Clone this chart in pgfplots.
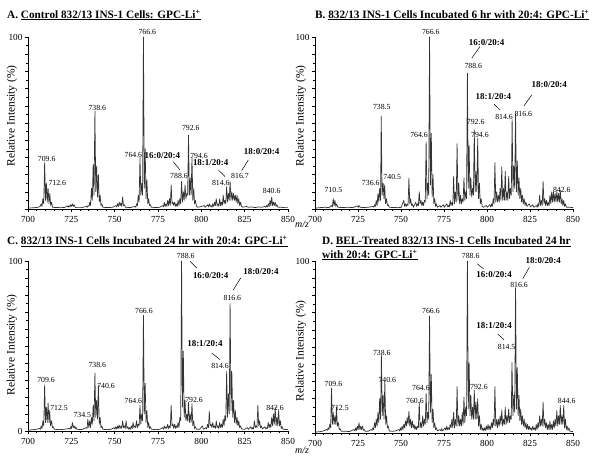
\documentclass[border=0pt]{standalone}
\usepackage{pgfplots}
\pgfplotsset{compat=1.18}
\usepackage{fontspec}
\setmainfont{Liberation Serif}
\newcommand{\pl}[3]{\node[font=\fontsize{7.8}{8}\selectfont, inner sep=0pt] at (axis cs:#1,#2) {#3};}
\newcommand{\lipid}[3]{\node[font=\fontsize{9}{10}\selectfont\bfseries, inner sep=0pt] at (axis cs:#1,#2) {#3};}
\newcommand{\ld}[4]{\draw[black, line width=0.5pt] (axis cs:#1,#2) -- (axis cs:#3,#4);}
\pgfplotsset{
  msstyle/.style={
    scale only axis, axis lines*=left, clip=false,
    xmin=700, xmax=850, ymin=0, ymax=100,
    xtick={700,725,...,850}, minor x tick num=4,
    ytick={0,10,...,100}, minor y tick num=1,
    tick align=outside, major tick length=3bp, minor tick length=1.6bp,
    tick style={black, line width=0.5pt},
    axis line style={black, line width=0.6pt},
    tick label style={font=\fontsize{9.3}{10}\selectfont},
    /pgf/number format/assume math mode=true,
    /pgf/number format/1000 sep={},
    xticklabel style={yshift=-1pt},
    yticklabel style={xshift=1pt},
    anchor=south west,
  },
  spec/.style={black!80, line width=0.7pt, sharp plot, mark=none, line join=round}
}
\begin{document}
\begin{tikzpicture}[x=1bp,y=1bp]
\useasboundingbox (0,0) rectangle (600,457);
% Titles
\node[anchor=west, font=\fontsize{11.3}{13}\selectfont\bfseries, inner sep=0pt] at (7,442) {A.\ \underline{Control 832/13 INS-1 Cells: GPC-Li\textsuperscript{+}}};
\node[anchor=west, font=\fontsize{11.3}{13}\selectfont\bfseries, inner sep=0pt] at (315,442) {B.\ \underline{832/13 INS-1 Cells Incubated 6 hr with 20:4: GPC-Li\textsuperscript{+}}};
\node[anchor=west, font=\fontsize{11.3}{13}\selectfont\bfseries, inner sep=0pt] at (7,215.5) {C.\ \underline{832/13 INS-1 Cells Incubated 24 hr with 20:4: GPC-Li\textsuperscript{+}}};
\node[anchor=west, font=\fontsize{11.3}{13}\selectfont\bfseries, inner sep=0pt] at (322,215.5) {D.\ \underline{BEL-Treated 832/13 INS-1 Cells Incubated 24 hr}};
\node[anchor=west, font=\fontsize{11.3}{13}\selectfont\bfseries, inner sep=0pt] at (322,202) {\underline{with 20:4: GPC-Li\textsuperscript{+}}};
% y labels
\node[rotate=90, font=\fontsize{11.5}{12}\selectfont, inner sep=0pt] at (12,341) {Relative Intensity (\%)};
\node[rotate=90, font=\fontsize{11.5}{12}\selectfont, inner sep=0pt] at (301,341) {Relative Intensity (\%)};
\node[rotate=90, font=\fontsize{11.5}{12}\selectfont, inner sep=0pt] at (12,112) {Relative Intensity (\%)};
\node[rotate=90, font=\fontsize{11.5}{12}\selectfont, inner sep=0pt] at (301,106) {Relative Intensity (\%)};
% m/z
\node[font=\fontsize{10}{11}\selectfont\itshape, inner sep=0pt] at (302,233) {m/z};
\node[font=\fontsize{10}{11}\selectfont\itshape, inner sep=0pt] at (302,7) {m/z};

% ---------------- Panel A ----------------
\begin{axis}[msstyle, at={(28bp,248bp)}, width=260bp, height=172bp, yticklabels={,,,,,,,,,,100}]
\addplot[spec] coordinates {(700,0.5)(704,0.8)(706,1)(707,1.5)(707.6,3)(708.1,1.5)(708.6,6)(709.1,3)(709.6,27)(710.1,5)(710.6,15)(711.1,4)(711.6,12)(712.1,3)(712.6,9)(713.1,2)(713.6,4)(714.2,1)(716,0.8)(719,1)(721,0.8)(722.6,1.8)(723.2,1)(723.6,2)(724.2,1.2)(724.6,2.5)(725.2,1.5)(725.6,3)(726.2,1.5)(726.6,2.5)(727.2,1)(728,0.8)(731,0.8)(733.6,1.5)(734.2,1)(734.6,2)(735.2,1.5)(735.6,4)(736.1,2)(736.6,12)(737.1,5)(737.6,26)(738.1,8)(738.6,57)(739.1,10)(739.6,25)(740.1,7)(740.6,20)(741.1,4)(741.6,8)(742.1,2)(742.6,3)(743.2,1)(746,0.8)(749,1)(750.6,2)(751.2,1.2)(751.6,3)(752.2,1.5)(752.6,4)(753.2,2)(753.6,3.5)(754.1,1.5)(754.6,7)(755.1,2)(755.6,2.5)(756.2,1)(759,0.8)(761.6,1.5)(762.2,1)(762.6,3)(763.1,2)(763.6,8)(764.1,4)(764.6,30)(765.1,8)(765.6,15)(766.1,8)(766.6,100)(767.1,12)(767.6,35)(768.1,6)(768.6,17)(769.1,3)(769.6,6)(770.1,2)(770.6,2.5)(771.2,1)(774,0.8)(776,1)(777.6,2)(778.2,1.2)(778.6,4)(779.1,1.5)(779.6,3)(780.1,1.5)(780.6,5)(781.1,2)(781.6,6)(782.1,2)(782.6,14)(783.1,3)(783.6,4)(784.1,2)(784.6,4)(785.2,1.5)(785.6,3)(786.1,1.5)(786.6,5)(787.1,2)(787.6,6)(788.1,3)(788.6,16)(789.1,4)(789.6,10)(790.1,5)(790.6,14)(791.1,6)(791.6,9)(792.1,8)(792.6,43)(793.1,8)(793.6,18)(794.1,8)(794.6,30)(795.1,5)(795.6,12)(796.1,3)(796.6,5)(797.2,1.5)(798,1)(800,1.5)(801.6,2)(802.2,1)(803.6,2.5)(804.2,1.2)(804.6,3)(805.2,1.5)(805.6,2)(806.2,1)(806.6,3)(807.2,1.5)(807.6,4)(808.1,2)(808.6,6)(809.1,2)(809.6,3)(810.1,1.5)(810.6,6)(811.1,2)(811.6,4)(812.1,2)(812.6,8)(813.1,3)(813.6,5)(814.1,3)(814.6,13)(815.1,4)(815.6,9)(816.1,5)(816.6,16)(817.1,5)(817.6,10)(818.1,5)(818.6,9)(819.1,5)(819.6,8)(820.1,4)(820.6,8)(821.1,3)(821.6,6)(822.1,2)(822.6,4)(823.2,1.5)(824,1)(826,1.5)(827,1)(829,1.2)(831,0.8)(833,1.2)(835,1)(836.6,1.5)(837.2,1)(837.6,2)(838.2,1.2)(838.6,3)(839.1,1.5)(839.6,5)(840.1,2)(840.6,7)(841.1,2)(841.6,4)(842.1,2)(842.6,4)(843.1,1.5)(843.6,2.5)(844.2,1)(846,1)(848,0.8)(850,0.8)};
\pl{768.8}{102.7}{766.6}
\pl{740.0}{58.5}{738.6}
\pl{710.8}{28.9}{709.6}
\pl{716.9}{15.3}{712.6}
\pl{760.8}{31.2}{764.6}
\pl{793.9}{46.9}{792.6}
\pl{798.7}{31}{794.6}
\pl{787.1}{19.4}{788.6}
\pl{811.2}{15.1}{814.6}
\pl{822.3}{19}{816.7}
\pl{840.6}{10.6}{840.6}
\lipid{777.5}{31}{16:0/20:4}
\lipid{805.4}{26.7}{18:1/20:4}
\lipid{834.8}{33.5}{18:0/20:4}
\ld{783.8}{27.5}{787.7}{22.7}
\ld{809.8}{22.7}{813.7}{18.8}
\ld{827.1}{28.5}{823.3}{22.3}
\end{axis}

% ---------------- Panel B ----------------
\begin{axis}[msstyle, at={(315bp,248bp)}, width=258bp, height=172bp, yticklabels={,,,,,,,,,,100}]
\addplot[spec] coordinates {(700,0.5)(703,0.8)(706,1)(708,0.8)(709.6,2)(710.1,1.2)(710.6,6)(711.1,2)(711.6,5)(712.1,1.5)(712.6,3)(713.2,1)(716,0.8)(719,1)(722,0.8)(724.6,1.8)(725.2,1)(725.6,2)(726.2,1)(728,0.8)(731,1)(733.6,1.5)(734.2,1)(734.6,2.5)(735.1,1.5)(735.6,5)(736.1,2)(736.6,9)(737.1,4)(737.6,12)(738.1,5)(738.5,54)(739.0,8)(739.6,15)(740.1,6)(740.5,14)(741.0,3)(741.6,6)(742.1,2)(742.6,2.5)(743.2,1)(746,0.8)(748,1)(750,0.8)(751.6,5)(752.1,1.5)(752.6,3)(753.1,1.5)(753.6,3)(754.1,2)(754.6,18)(755.1,3)(755.6,6)(756.1,2)(756.6,3)(757.2,1)(758.6,4)(759.1,1.5)(759.6,3)(760.1,2)(760.6,10)(761.1,3)(761.6,5)(762.1,2)(762.6,4)(763.1,2)(763.6,5)(764.1,4)(764.6,39)(765.1,6)(765.6,15)(766.1,8)(766.6,100)(767.1,14)(767.6,44)(768.1,7)(768.6,20)(769.1,3)(769.6,6)(770.1,1.5)(770.6,3)(771.2,1)(772.6,2)(773.2,1)(774.6,2.5)(775.2,1)(776.6,3)(777.2,1.2)(777.6,2)(778.1,1.2)(778.6,5)(779.1,2)(779.6,4)(780.1,2)(780.6,19)(781.1,3)(781.6,10)(782.1,4)(782.6,38)(783.1,5)(783.6,15)(784.1,3)(784.6,8)(785.1,3)(785.6,6)(786.1,4)(786.6,18)(787.1,5)(787.6,10)(788.1,6)(788.6,79)(789.1,12)(789.6,37)(790.1,8)(790.6,18)(791.1,7)(791.6,12)(792.1,8)(792.6,46)(793.1,10)(793.6,22)(794.1,10)(794.6,41)(795.1,6)(795.6,15)(796.1,3)(796.6,6)(797.2,1.5)(798,1)(799.6,2)(800.2,1)(801.6,2.5)(802.2,1.2)(802.6,3)(803.1,1.5)(803.6,6)(804.1,3)(804.6,27)(805.1,4)(805.6,10)(806.1,4)(806.6,8)(807.1,4)(807.6,12)(808.1,5)(808.6,24.5)(809.1,5)(809.6,12)(810.1,5)(810.6,22)(811.1,5)(811.6,10)(812.1,5)(812.6,19)(813.1,6)(813.6,12)(814.1,8)(814.6,52)(815.1,10)(815.6,25)(816.1,12)(816.6,55)(817.1,10)(817.6,28)(818.1,8)(818.6,18)(819.1,6)(819.6,12)(820.1,4)(820.6,8)(821.1,3)(821.6,6)(822.1,2)(822.6,4)(823.2,1.5)(824.6,3)(825.2,1.2)(826.6,2.5)(827.2,1)(828.6,2)(829.2,1)(829.6,3)(830.1,1.5)(830.6,8)(831.1,2)(831.6,5)(832.1,2)(832.6,16)(833.1,3)(833.6,6)(834.1,2)(834.6,5)(835.1,2)(835.6,4)(836.1,2)(836.6,8)(837.1,3)(837.6,10)(838.1,4)(838.6,10)(839.1,4)(839.6,9)(840.1,4)(840.6,10)(841.1,4)(841.6,9)(842.1,4)(842.6,11)(843.1,3)(843.6,6)(844.1,2)(844.6,5)(845.1,1.5)(845.6,3)(846.2,1)(848,1)(850,0.8)};
\pl{767.3}{102.7}{766.6}
\pl{738.8}{59.1}{738.5}
\pl{710.7}{11}{710.5}
\pl{732.4}{14.9}{736.6}
\pl{744.9}{18.6}{740.5}
\pl{760.5}{43}{764.6}
\pl{792.0}{83.1}{788.6}
\pl{793.4}{50.4}{792.6}
\pl{795.9}{43}{794.6}
\pl{809.9}{53.3}{814.6}
\pl{821.1}{55.2}{816.6}
\pl{843.5}{11}{842.6}
\lipid{799.8}{96.9}{16:0/20:4}
\lipid{803.7}{65.3}{18:1/20:4}
\lipid{836.2}{72.1}{18:0/20:4}
\ld{795.9}{94.4}{791.1}{87.6}
\ld{804.2}{60.9}{807.6}{57.6}
\ld{826}{66.3}{821.5}{59.9}
\end{axis}

% ---------------- Panel C ----------------
\begin{axis}[msstyle, at={(28bp,26bp)}, width=260bp, height=170bp, yticklabels={0,,,,,,,,,,100}]
\addplot[spec] coordinates {(700,0.5)(703,0.8)(705,1)(706.6,1.5)(707.2,1)(707.6,3)(708.1,1.5)(708.6,6)(709.1,3)(709.6,27)(710.1,5)(710.6,14)(711.1,5)(711.6,16.5)(712.1,5)(712.5,12)(713.0,3)(713.6,6)(714.1,2)(714.6,2.5)(715.2,1)(718,0.8)(721,1)(723.6,1.5)(724.2,1)(724.6,2.5)(725.1,1.5)(725.6,5)(726.1,2)(726.6,3)(727.2,1.2)(727.6,2.5)(728.2,1)(731,0.8)(733.6,2)(734.1,1.5)(734.5,7)(735.1,2)(735.6,6)(736.1,2)(736.6,8)(737.1,4)(737.6,15)(738.1,6)(738.6,34)(739.1,8)(739.6,18)(740.1,7)(740.6,27)(741.1,4)(741.6,8)(742.1,2)(742.6,3)(743.2,1)(746,0.8)(748,1)(749.6,2)(750.2,1)(750.6,2.5)(751.2,1.2)(751.6,3)(752.1,1.5)(752.6,3.5)(753.1,1.5)(753.6,3)(754.1,1.5)(754.6,6)(755.1,2)(755.6,3)(756.1,1.5)(756.6,6)(757.1,1.5)(757.6,2.5)(758.2,1)(758.6,2)(759.1,1)(759.6,3)(760.1,1.5)(760.6,5)(761.1,2)(761.6,3)(762.1,2)(762.6,6)(763.1,2)(763.6,4)(764.1,3)(764.6,15)(765.1,4)(765.6,10)(766.1,6)(766.6,68)(767.1,10)(767.6,28)(768.1,5)(768.6,12)(769.1,2)(769.6,5)(770.1,1.5)(770.6,2.5)(771.2,1)(774,0.8)(776,1)(777.6,2)(778.2,1)(778.6,3)(779.1,1.5)(779.6,2.5)(780.1,1.5)(780.6,4)(781.1,1.5)(781.6,3)(782.1,2)(782.6,15)(783.1,3)(783.6,4)(784.1,1.5)(784.6,4)(785.2,1.5)(785.6,3)(786.1,2)(786.6,5)(787.1,2)(787.6,8)(788.1,6)(788.6,100)(789.1,14)(789.6,47)(790.1,8)(790.6,18)(791.1,6)(791.6,10)(792.1,6)(792.6,17)(793.1,5)(793.6,10)(794.1,5)(794.6,16)(795.1,3)(795.6,6)(796.1,1.5)(796.6,2.5)(797.2,1)(799,1)(800.6,3)(801.2,1)(802.6,2)(803.1,1.2)(803.6,4)(804.1,2)(804.6,11.5)(805.1,3)(805.6,4)(806.1,2)(806.6,5)(807.1,2)(807.6,3)(808.1,1.5)(808.6,6)(809.1,2)(809.6,3)(810.1,1.5)(810.6,5)(811.1,2)(811.6,4)(812.1,2)(812.6,7)(813.1,3)(813.6,9)(814.1,6)(814.6,35)(815.1,8)(815.6,22)(816.1,10)(816.6,75)(817.1,12)(817.6,35)(818.1,8)(818.6,18)(819.1,5)(819.6,12)(820.1,4)(820.6,8)(821.1,3)(821.6,6)(822.1,2)(822.6,3)(823.2,1.2)(825,1)(826.6,2)(827.2,1)(828.6,2.5)(829.2,1)(829.6,2)(830.1,1.2)(830.6,6)(831.1,2)(831.6,3)(832.1,2)(832.6,15)(833.1,3)(833.6,6)(834.1,2)(834.6,3)(835.2,1.2)(836.6,2.5)(837.2,1.2)(837.6,2)(838.1,1.5)(838.6,5)(839.1,2)(839.6,4)(840.1,2)(840.6,8)(841.1,3)(841.6,10)(842.1,4)(842.6,14)(843.1,3)(843.6,8)(844.1,3)(844.6,12)(845.1,3)(845.6,6)(846.1,1.5)(846.6,2.5)(847.2,1)(850,0.8)};
\pl{791}{102.7}{788.6}
\pl{817.9}{78.2}{816.6}
\pl{766.9}{70.4}{766.6}
\pl{810.8}{38.4}{814.6}
\pl{740}{38.6}{738.6}
\pl{745}{26.6}{740.6}
\pl{710.4}{30.2}{709.6}
\pl{717.9}{13.5}{712.5}
\pl{731.3}{9.6}{734.5}
\pl{760.8}{17.8}{764.6}
\pl{795.8}{18.4}{792.6}
\pl{842.5}{13.5}{842.6}
\lipid{805.4}{91.4}{16:0/20:4}
\lipid{834.4}{93.9}{18:0/20:4}
\lipid{802.1}{51.2}{18:1/20:4}
\ld{793.5}{99.8}{797.3}{95.9}
\ld{822.7}{90}{818.5}{83.1}
\ld{806}{45.9}{810.8}{42}
\end{axis}

% ---------------- Panel D ----------------
\begin{axis}[msstyle, at={(315bp,24bp)}, width=258bp, height=172bp, yticklabels={,,,,,,,,,,100}]
\addplot[spec] coordinates {(700,0.5)(703,0.8)(705,1.2)(706.6,2)(707.2,1.5)(707.6,3)(708.1,2)(708.6,5)(709.1,3)(709.6,26)(710.1,5)(710.6,12)(711.1,5)(711.6,10)(712.1,5)(712.5,15)(713.0,4)(713.6,6)(714.1,2)(714.6,2.5)(715.2,1)(718,1)(720,0.8)(722.6,2)(723.2,1.2)(723.6,3)(724.1,1.5)(724.6,4)(725.1,2)(725.6,6)(726.1,2)(726.6,4)(727.1,2)(727.6,4)(728.1,1.5)(728.6,2)(729.2,1)(731,1)(732.6,2)(733.1,1.5)(733.6,3)(734.1,2)(734.6,6)(735.1,3)(735.6,8)(736.1,4)(736.6,12)(737.1,6)(737.6,20)(738.1,8)(738.6,45)(739.1,10)(739.6,22)(740.1,8)(740.6,30)(741.1,5)(741.6,10)(742.1,3)(742.6,4)(743.2,1.2)(745,1)(747,1.2)(748.6,2)(749.2,1.2)(749.6,3)(750.1,1.5)(750.6,4)(751.1,2)(751.6,5)(752.1,3)(752.6,7)(753.1,4)(753.6,9)(754.1,5)(754.6,12.6)(755.1,4)(755.6,8)(756.1,3)(756.6,7)(757.1,3)(757.6,5)(758.1,2)(758.6,4)(759.1,2)(759.6,4)(760.1,3)(760.6,18)(761.1,3)(761.6,6)(762.1,3)(762.6,10)(763.1,4)(763.6,8)(764.1,5)(764.6,23)(765.1,6)(765.6,12)(766.1,8)(766.6,68)(767.1,12)(767.6,34)(768.1,6)(768.6,14)(769.1,3)(769.6,6)(770.1,2)(770.6,3)(771.2,1.2)(772.6,2)(773.2,1.2)(773.6,2.5)(774.2,1.2)(775.6,3)(776.1,1.5)(776.6,4)(777.1,2)(777.6,3)(778.1,2)(778.6,5)(779.1,3)(779.6,8)(780.1,3)(780.6,12)(781.1,3)(781.6,8)(782.1,4)(782.6,27)(783.1,4)(783.6,10)(784.1,4)(784.6,8)(785.1,4)(785.6,12)(786.1,5)(786.6,21)(787.1,6)(787.6,15)(788.1,10)(788.6,100)(789.1,14)(789.6,41)(790.1,10)(790.6,22)(791.1,8)(791.6,15)(792.1,8)(792.6,25)(793.1,8)(793.6,18)(794.1,8)(794.6,20)(795.1,4)(795.6,10)(796.1,2)(796.6,5)(797.1,1.5)(797.6,3)(798.2,1.2)(798.6,3)(799.2,1.5)(799.6,4)(800.1,2)(800.6,5)(801.1,2)(801.6,4)(802.1,2)(802.6,6)(803.1,3)(803.6,8)(804.1,4)(804.6,27)(805.1,4)(805.6,8)(806.1,3)(806.6,8)(807.1,4)(807.6,10)(808.1,5)(808.6,13.4)(809.1,4)(809.6,8)(810.1,5)(810.6,15)(811.1,5)(811.6,10)(812.1,6)(812.6,14)(813.1,6)(813.6,10)(814.1,8)(814.5,41)(815.1,10)(815.6,22)(816.1,12)(816.6,84.5)(817.1,14)(817.6,38)(818.1,10)(818.6,22)(819.1,7)(819.6,14)(820.1,5)(820.6,10)(821.1,4)(821.6,8)(822.1,3)(822.6,6)(823.1,2)(823.6,5)(824.1,2)(824.6,4)(825.1,2)(825.6,3)(826.1,1.5)(826.6,4)(827.1,2)(827.6,3)(828.1,1.5)(828.6,5)(829.1,2)(829.6,6)(830.1,3)(830.6,10)(831.1,4)(831.6,8)(832.1,4)(832.6,18)(833.1,4)(833.6,8)(834.1,3)(834.6,6)(835.1,2)(835.6,5)(836.1,2)(836.6,7)(837.1,2)(837.6,5)(838.1,2)(838.6,7)(839.1,3)(839.6,8)(840.1,4)(840.6,13)(841.1,4)(841.6,10)(842.1,5)(842.6,16)(843.1,5)(843.6,10)(844.1,5)(844.6,16)(845.1,3)(845.6,8)(846.1,2)(846.6,4)(847.1,1.5)(847.6,3)(848.2,1)(850,0.8)};
\pl{790.5}{102.7}{788.6}
\pl{818.6}{86.2}{816.6}
\pl{767.4}{71.1}{766.6}
\pl{811.4}{49.8}{814.5}
\pl{738.8}{46.5}{738.6}
\pl{742}{31}{740.6}
\pl{710.7}{28.5}{709.6}
\pl{714.5}{14.5}{712.5}
\pl{761.6}{26.2}{764.6}
\pl{758.1}{18.4}{760.6}
\pl{795.3}{26.7}{792.6}
\pl{846.3}{18.4}{844.6}
\lipid{804.1}{92}{16:0/20:4}
\lipid{832.7}{100.4}{18:0/20:4}
\lipid{804.1}{62.6}{18:1/20:4}
\ld{794.4}{98.3}{797.9}{95.5}
\ld{824.6}{96.3}{820.8}{89.7}
\ld{806.2}{57.6}{809.9}{54.2}
\end{axis}
\end{tikzpicture}
\end{document}
